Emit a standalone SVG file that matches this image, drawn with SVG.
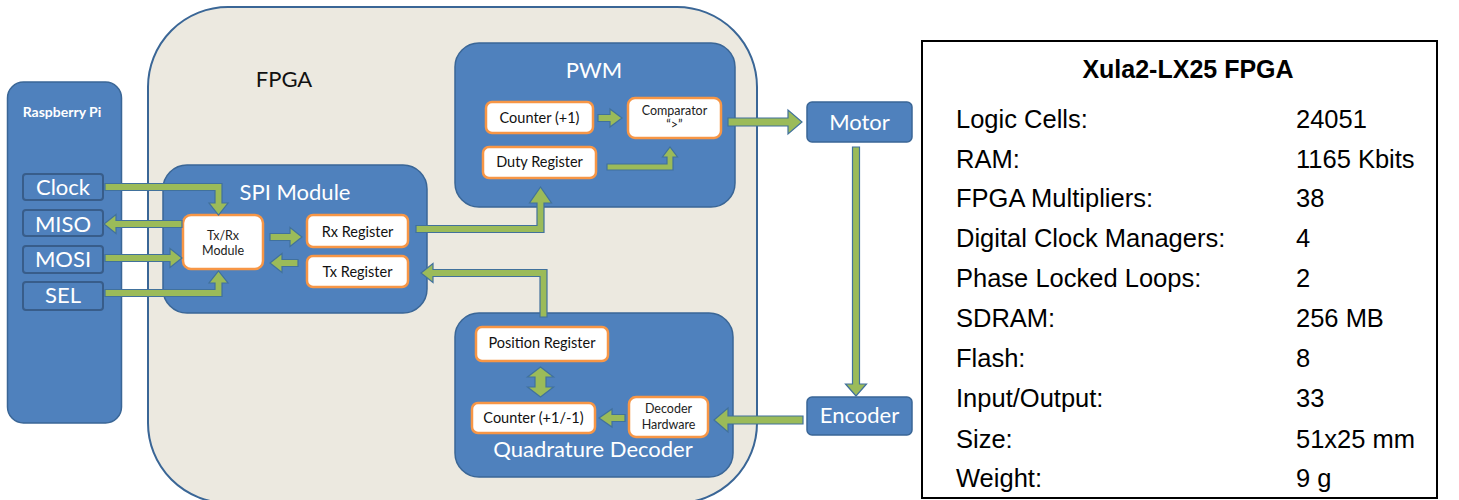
<svg xmlns="http://www.w3.org/2000/svg" width="1459" height="500" viewBox="0 0 1459 500">
<style>
.blue{fill:#4F81BD;stroke:#3A6696;stroke-width:1.5}
.pin{fill:#4F81BD;stroke:#385D8A;stroke-width:2}
.inner{fill:#FFFFFF;stroke:#F79646;stroke-width:2.5}
.arrow{fill:#9BBB59;stroke:#41719C;stroke-width:1.2;stroke-linejoin:miter}
text{font-family:Lato,"Open Sans","Liberation Sans",sans-serif}
.big{font-size:22px;fill:#FFFFFF;text-anchor:middle}
.mid{font-size:14.5px;fill:#111111;text-anchor:middle}
.sm{font-size:12.5px;fill:#222222;text-anchor:middle}
.tbl{font-family:"Liberation Sans",Arial,sans-serif;font-size:25.5px;fill:#000000}
.ttl{font-family:"Liberation Sans",Arial,sans-serif;font-size:25px;font-weight:bold;fill:#000000;text-anchor:middle}
</style>
<rect x="0" y="0" width="1459" height="500" fill="#FFFFFF"/>
<g id="fpga">
<rect x="148" y="7" width="609" height="496" rx="80" ry="80" fill="#ECE9E0" stroke="#3A6696" stroke-width="2"/>
<text x="284" y="87" style="font-size:22px;fill:#111111" text-anchor="middle">FPGA</text>
</g>
<g id="raspberry-pi">
<rect x="7.5" y="82" width="114" height="341" rx="16" ry="16" class="blue"/>
<text x="62" y="117" style="font-size:14px;font-weight:bold;fill:#FFFFFF" text-anchor="middle">Raspberry Pi</text>
</g>
<g id="pin-clock"><rect x="23" y="174" width="80" height="26" rx="3" class="pin"/><text x="63" y="195" class="big">Clock</text></g>
<g id="pin-miso"><rect x="23" y="210" width="80" height="26" rx="3" class="pin"/><text x="63" y="232" class="big">MISO</text></g>
<g id="pin-mosi"><rect x="23" y="246" width="80" height="27" rx="3" class="pin"/><text x="63" y="267" class="big">MOSI</text></g>
<g id="pin-sel"><rect x="23" y="282" width="80" height="28" rx="3" class="pin"/><text x="63" y="303" class="big">SEL</text></g>
<g id="spi-module">
<rect x="163" y="165" width="264" height="148" rx="24" class="blue"/>
<text x="295" y="200" class="big">SPI Module</text>
</g>
<g id="txrx-module"><rect x="183" y="215" width="80" height="54" rx="8" class="inner"/><text x="223" y="240" class="sm">Tx/Rx</text><text x="223" y="255" class="sm">Module</text></g>
<g id="rx-register"><rect x="307" y="215" width="101" height="32" rx="6" class="inner"/><text x="357.5" y="237" class="mid">Rx Register</text></g>
<g id="tx-register"><rect x="307" y="256" width="101" height="31" rx="6" class="inner"/><text x="357.5" y="277" class="mid">Tx Register</text></g>
<g id="pwm">
<rect x="455" y="43" width="280" height="164" rx="24" class="blue"/>
<text x="594" y="78" class="big">PWM</text>
</g>
<g id="counter-plus1"><rect x="486" y="102" width="107" height="31" rx="6" class="inner"/><text x="539.5" y="123" class="mid">Counter (+1)</text></g>
<g id="comparator"><rect x="628" y="98" width="93" height="40" rx="7" class="inner"/><text x="674.5" y="115" class="sm">Comparator</text><text x="674.5" y="129" class="sm">“&gt;”</text></g>
<g id="duty-register"><rect x="483" y="147" width="113" height="31" rx="6" class="inner"/><text x="539.5" y="167" class="mid">Duty Register</text></g>
<g id="quadrature-decoder">
<rect x="455" y="313" width="278" height="164" rx="24" class="blue"/>
<text x="593" y="457" class="big">Quadrature Decoder</text>
</g>
<g id="position-register"><rect x="476" y="327" width="132" height="34" rx="6" class="inner"/><text x="542" y="348" class="mid">Position Register</text></g>
<g id="counter-updown"><rect x="472" y="403" width="123" height="30" rx="6" class="inner"/><text x="533.5" y="423" class="mid">Counter (+1/-1)</text></g>
<g id="decoder-hardware"><rect x="629" y="397" width="79" height="40" rx="7" class="inner"/><text x="668.5" y="413" class="sm">Decoder</text><text x="668.5" y="429" class="sm">Hardware</text></g>
<g id="motor"><rect x="807" y="102" width="105" height="40" rx="5" class="blue"/><text x="859.5" y="130" class="big">Motor</text></g>
<g id="encoder"><rect x="807" y="397" width="105" height="38" rx="5" class="blue"/><text x="859.5" y="423" class="big">Encoder</text></g>
<g id="connectors">
<path class="arrow" d="M105,183.5 H222 V203 H228 L218.5,215 L209,203 H215 V190.5 H105 Z"/>
<path class="arrow" d="M182,220.5 H116 V214.5 L104,224 L116,233.5 V227.5 H182 Z"/>
<path class="arrow" d="M105,254.5 H170 V248.5 L182,258 L170,267.5 V261.5 H105 Z"/>
<path class="arrow" d="M105,289.5 H215 V283 H209 L218.5,271 L228,283 H222 V296.5 H105 Z"/>
<path class="arrow" d="M270,233.5 H290 V227.5 L302,237 L290,246.5 V240.5 H270 Z"/>
<path class="arrow" d="M298,259.5 H282 V253.5 L270,263 L282,272.5 V266.5 H298 Z"/>
<path class="arrow" d="M416,225.5 H537 V203 H529.5 L540.5,187 L551.5,203 H544 V232.5 H416 Z"/>
<path class="arrow" d="M547,317 V269.5 H433 V263.5 L421,273 L433,282.5 V276.5 H540 V317 Z"/>
<path class="arrow" d="M598,114.5 H610 V109 L622,118 L610,127 V121.5 H598 Z"/>
<path class="arrow" d="M607,164 H667 V157 H662.5 L670,147 L677.5,157 H673 V170 H607 Z"/>
<path class="arrow" d="M728,118 H788 V110 L802,122 L788,134 V126 H728 Z"/>
<path class="arrow" d="M852.5,147 V384 H845.5 L856,396 L866.5,384 H859.5 V147 Z"/>
<path class="arrow" d="M803,416 H728 V408 L714,420 L728,432 V424 H803 Z"/>
<path class="arrow" d="M625,414.5 H612 V409 L599,418 L612,427 V421.5 H625 Z"/>
<path class="arrow" d="M540.5,367 L553.5,377 H546 V387 H553.5 L540.5,397 L527.5,387 H535 V377 H527.5 Z"/>
</g>
<g id="spec-table">
<rect x="922" y="41" width="515" height="457" fill="#FFFFFF" stroke="#000000" stroke-width="2"/>
<text x="1188" y="78" class="ttl">Xula2-LX25 FPGA</text>
<text x="956" y="128" class="tbl">Logic Cells:</text><text x="1296" y="128" class="tbl">24051</text>
<text x="956" y="168" class="tbl">RAM:</text><text x="1296" y="168" class="tbl">1165 Kbits</text>
<text x="956" y="207" class="tbl">FPGA Multipliers:</text><text x="1296" y="207" class="tbl">38</text>
<text x="956" y="247" class="tbl">Digital Clock Managers:</text><text x="1296" y="247" class="tbl">4</text>
<text x="956" y="287" class="tbl">Phase Locked Loops:</text><text x="1296" y="287" class="tbl">2</text>
<text x="956" y="327" class="tbl">SDRAM:</text><text x="1296" y="327" class="tbl">256 MB</text>
<text x="956" y="367" class="tbl">Flash:</text><text x="1296" y="367" class="tbl">8</text>
<text x="956" y="407" class="tbl">Input/Output:</text><text x="1296" y="407" class="tbl">33</text>
<text x="956" y="448" class="tbl">Size:</text><text x="1296" y="448" class="tbl">51x25 mm</text>
<text x="956" y="487" class="tbl">Weight:</text><text x="1296" y="487" class="tbl">9 g</text>
</g>
</svg>
